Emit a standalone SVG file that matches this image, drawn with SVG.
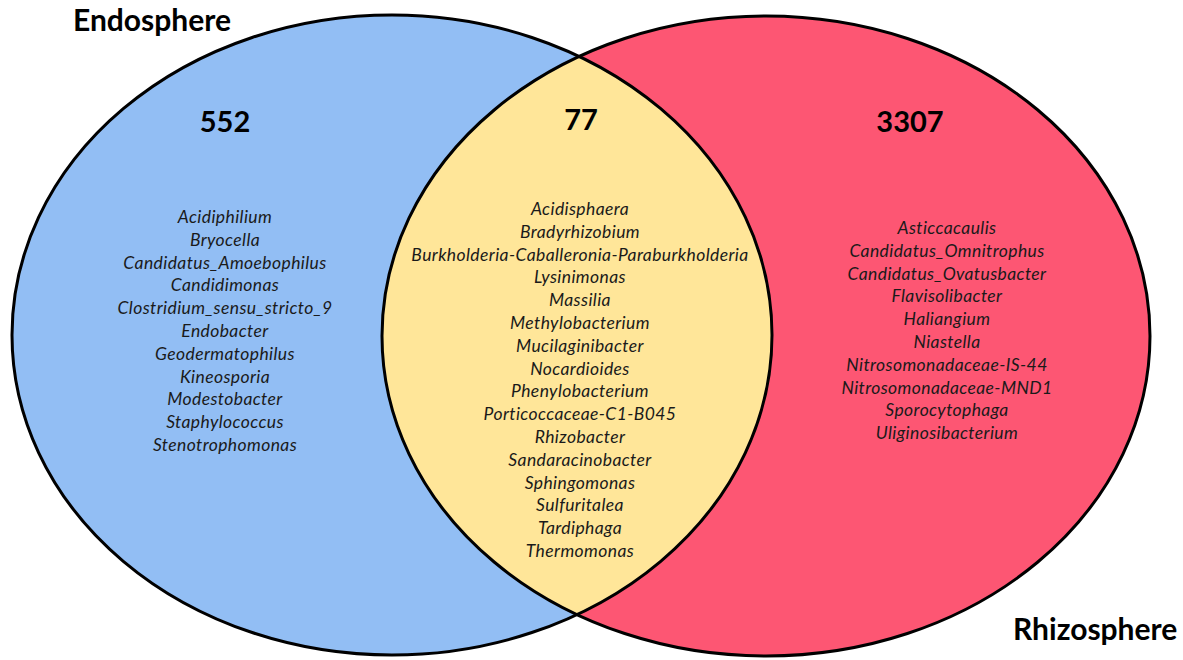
<svg xmlns="http://www.w3.org/2000/svg" width="1183" height="660" viewBox="0 0 1183 660">
<style>
.title{font-family:"Lato","Open Sans",sans-serif;font-weight:bold;font-size:30px;fill:#000;}
.num{font-family:"Lato","Open Sans",sans-serif;font-weight:bold;font-size:29px;fill:#000;text-anchor:middle;}
.it{font-family:"Lato","Open Sans",sans-serif;font-style:italic;font-size:17.5px;letter-spacing:0.4px;fill:#1a1a1a;text-anchor:middle;}
.edge{fill:none;stroke:#000;stroke-width:3;}
</style>
<defs>
<clipPath id="clipLeft"><ellipse cx="392" cy="335" rx="380" ry="320"/></clipPath>
</defs>
<rect x="0" y="0" width="1183" height="660" fill="#fff"/>
<g id="endosphere-set">
<ellipse cx="392" cy="335" rx="380" ry="320" fill="#92BEF4"/>
</g>
<g id="rhizosphere-set">
<ellipse cx="766" cy="336" rx="384" ry="320" fill="#FD5673"/>
</g>
<g id="shared-set">
<ellipse cx="766" cy="336" rx="384" ry="320" fill="#FFE699" clip-path="url(#clipLeft)"/>
</g>
<g id="outlines">
<ellipse class="edge" cx="392" cy="335" rx="380" ry="320"/>
<ellipse class="edge" cx="766" cy="336" rx="384" ry="320"/>
</g>
<g id="label-endosphere"><text class="title" x="73" y="31">Endosphere</text></g>
<g id="label-rhizosphere"><text class="title" x="1013" y="640">Rhizosphere</text></g>
<g id="endosphere-only">
<text class="num" x="225" y="132">552</text>
<text class="it" x="225" y="223">Acidiphilium</text>
<text class="it" x="225" y="246">Bryocella</text>
<text class="it" x="225" y="269">Candidatus_Amoebophilus</text>
<text class="it" x="225" y="291">Candidimonas</text>
<text class="it" x="225" y="314">Clostridium_sensu_stricto_9</text>
<text class="it" x="225" y="337">Endobacter</text>
<text class="it" x="225" y="360">Geodermatophilus</text>
<text class="it" x="225" y="383">Kineosporia</text>
<text class="it" x="225" y="405">Modestobacter</text>
<text class="it" x="225" y="428">Staphylococcus</text>
<text class="it" x="225" y="451">Stenotrophomonas</text>
</g>
<g id="shared">
<text class="num" x="581" y="130">77</text>
<text class="it" x="580" y="215">Acidisphaera</text>
<text class="it" x="580" y="238">Bradyrhizobium</text>
<text class="it" x="580" y="261">Burkholderia-Caballeronia-Paraburkholderia</text>
<text class="it" x="580" y="283">Lysinimonas</text>
<text class="it" x="580" y="306">Massilia</text>
<text class="it" x="580" y="329">Methylobacterium</text>
<text class="it" x="580" y="352">Mucilaginibacter</text>
<text class="it" x="580" y="375">Nocardioides</text>
<text class="it" x="580" y="397">Phenylobacterium</text>
<text class="it" x="580" y="420">Porticoccaceae-C1-B045</text>
<text class="it" x="580" y="443">Rhizobacter</text>
<text class="it" x="580" y="466">Sandaracinobacter</text>
<text class="it" x="580" y="489">Sphingomonas</text>
<text class="it" x="580" y="511">Sulfuritalea</text>
<text class="it" x="580" y="534">Tardiphaga</text>
<text class="it" x="580" y="557">Thermomonas</text>
</g>
<g id="rhizosphere-only">
<text class="num" x="910" y="132">3307</text>
<text class="it" x="947" y="234">Asticcacaulis</text>
<text class="it" x="947" y="257">Candidatus_Omnitrophus</text>
<text class="it" x="947" y="280">Candidatus_Ovatusbacter</text>
<text class="it" x="947" y="302">Flavisolibacter</text>
<text class="it" x="947" y="325">Haliangium</text>
<text class="it" x="947" y="348">Niastella</text>
<text class="it" x="947" y="371">Nitrosomonadaceae-IS-44</text>
<text class="it" x="947" y="394">Nitrosomonadaceae-MND1</text>
<text class="it" x="947" y="416">Sporocytophaga</text>
<text class="it" x="947" y="439">Uliginosibacterium</text>
</g>
</svg>
